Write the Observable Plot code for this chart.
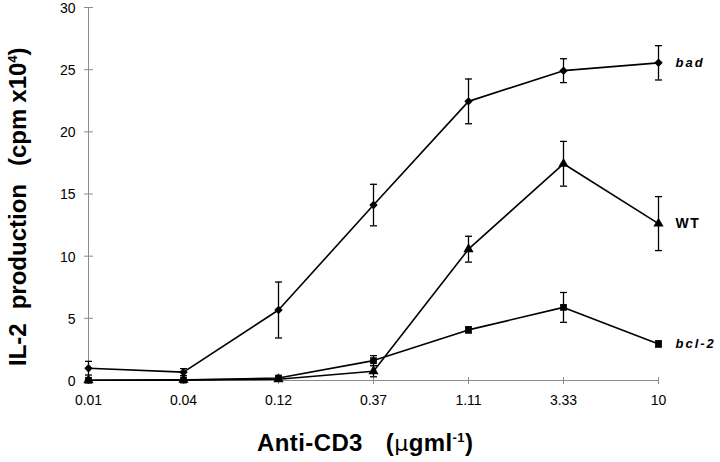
<!DOCTYPE html>
<html>
<head>
<meta charset="utf-8">
<script src="https://cdn.jsdelivr.net/npm/d3@7"></script>
<script src="https://cdn.jsdelivr.net/npm/@observablehq/plot@0.6"></script>
<style>
  html, body { margin: 0; padding: 0; background: #fff; }
  #chart svg { display: block; }
</style>
</head>
<body>
<div id="chart"></div>
<script>
const categories = ["0.01", "0.04", "0.12", "0.37", "1.11", "3.33", "10"];
const yTicks = [0, 5, 10, 15, 20, 25, 30];

const badValues = [0.99, 0.67, 5.67, 14.11, 22.45, 24.92, 25.55];
const badErrors = [0.55, 0.28, 2.25, 1.67, 1.8, 0.96, 1.38];

const wtValues = [0.02, 0.05, 0.1, 0.75, 10.56, 17.43, 12.62];
const wtErrors = [0, 0, 0.05, 0.45, 1.04, 1.8, 2.17];

const bclValues = [0.02, 0.03, 0.2, 1.6, 4.07, 5.88, 2.94];
const bclErrors = [0, 0, 0.1, 0.4, 0.25, 1.2, 0.25];

const seriesNames = ["bad", "WT", "bcl-2"];
const seriesSymbols = ["diamond2", "triangle", "square"];

const allValues = [badValues, wtValues, bclValues];
const allErrors = [badErrors, wtErrors, bclErrors];

const data = [];
seriesNames.forEach((s, si) => {
  categories.forEach((c, i) => {
    data.push({series: s, dose: c, value: allValues[si][i], err: allErrors[si][i], symbol: seriesSymbols[si]});
  });
});
const errData = data.filter(d => d.err > 0);
const lastPoints = seriesNames.map(s => data.filter(d => d.series === s).slice(-1)[0]);

// custom tick/cap symbols
const vTick = {draw(ctx) { ctx.moveTo(0, -3.5); ctx.lineTo(0, 3.5); }};
const hTick = {draw(ctx) { ctx.moveTo(-4.5, 0); ctx.lineTo(4.5, 0); }};
const cap = {draw(ctx) { ctx.moveTo(-3.5, 0); ctx.lineTo(3.5, 0); }};

const axisGray = "#8a8a8a";

const chart = Plot.plot({
  width: 720,
  height: 462,
  marginLeft: 87,
  marginRight: 61,
  marginTop: 7,
  marginBottom: 82,
  style: {fontFamily: "'Liberation Sans', Arial, sans-serif", fontSize: "14px", background: "#fff", color: "#000"},
  x: {type: "point", domain: categories, padding: 0},
  y: {domain: [0, 30]},
  marks: [
    Plot.axisX({tickSize: 0, tickPadding: 15, label: null}),
    Plot.axisY({ticks: yTicks, tickSize: 0, tickPadding: 12, label: null, dy: 1}),
    Plot.ruleX([categories[0]], {stroke: axisGray, strokeWidth: 1}),
    Plot.ruleY([0], {stroke: axisGray, strokeWidth: 1}),
    Plot.dot(categories, {x: d => d, y: () => 0, symbol: vTick, stroke: axisGray, strokeWidth: 1, fill: "none", r: 3}),
    Plot.dot(yTicks, {x: () => categories[0], y: d => d, symbol: hTick, stroke: axisGray, strokeWidth: 1, fill: "none", r: 3}),
    Plot.line(data, {x: "dose", y: "value", z: "series", stroke: "#000", strokeWidth: 1.6}),
    Plot.ruleX(errData, {x: "dose", y1: d => d.value - d.err, y2: d => d.value + d.err, stroke: "#000", strokeWidth: 1.3}),
    Plot.dot(errData, {x: "dose", y: d => d.value + d.err, symbol: cap, stroke: "#000", strokeWidth: 1.3, fill: "none", r: 3}),
    Plot.dot(errData, {x: "dose", y: d => d.value - d.err, symbol: cap, stroke: "#000", strokeWidth: 1.3, fill: "none", r: 3}),
    Plot.dot(data, {x: "dose", y: "value", symbol: "symbol", fill: "#000", stroke: "none", r: 3.8}),
    Plot.text(lastPoints.filter(d => d.series === "bad"), {x: "dose", y: "value", text: "series", textAnchor: "start", dx: 17, fontSize: 13, fontWeight: "bold", fontStyle: "italic", fill: "#000"}),
    Plot.text(lastPoints.filter(d => d.series === "WT"), {x: "dose", y: "value", text: "series", textAnchor: "start", dx: 17, fontSize: 14, fontWeight: "bold", fill: "#000"}),
    Plot.text(lastPoints.filter(d => d.series === "bcl-2"), {x: "dose", y: "value", text: "series", textAnchor: "start", dx: 17, fontSize: 13, fontWeight: "bold", fontStyle: "italic", fill: "#000"})
  ]
});

document.getElementById("chart").appendChild(chart);

const svg = d3.select(chart);
// letter spacing for series labels
svg.selectAll("text").filter(function() { return ["bad", "bcl-2", "WT"].includes(this.textContent); })
  .style("letter-spacing", function() { return this.textContent === "WT" ? "1.5px" : "2px"; });

// y axis title
const yt = svg.append("text")
  .attr("transform", "translate(26,366) rotate(-90)")
  .attr("text-anchor", "start")
  .attr("font-family", "'Liberation Sans', Arial, sans-serif")
  .attr("font-size", 24)
  .attr("font-weight", "bold")
  .attr("fill", "#000");
yt.append("tspan").text("IL-2");
yt.append("tspan").attr("dx", 14).text("production");
yt.append("tspan").attr("dx", 18).text("(cpm");
yt.append("tspan").attr("dx", 6).text("x10");
yt.append("tspan").attr("dy", -9).attr("font-size", 13).text("4");
yt.append("tspan").attr("dy", 9).text(")");

// x axis title
const xt = svg.append("text")
  .attr("x", 257).attr("y", 451)
  .attr("text-anchor", "start")
  .attr("font-family", "'Liberation Sans', Arial, sans-serif")
  .attr("font-size", 24)
  .attr("font-weight", "bold")
  .attr("fill", "#000")
  .style("letter-spacing", "0.4px");
xt.append("tspan").text("Anti-CD3");
xt.append("tspan").attr("dx", 23).text("(");
xt.append("tspan").attr("font-weight", "normal").attr("font-family", "'DejaVu Sans', sans-serif").attr("font-size", 22).text("μ");
xt.append("tspan").text("gml");
xt.append("tspan").attr("dy", -9).attr("font-size", 13).text("-1");
xt.append("tspan").attr("dy", 9).text(")");
</script>
</body>
</html>
